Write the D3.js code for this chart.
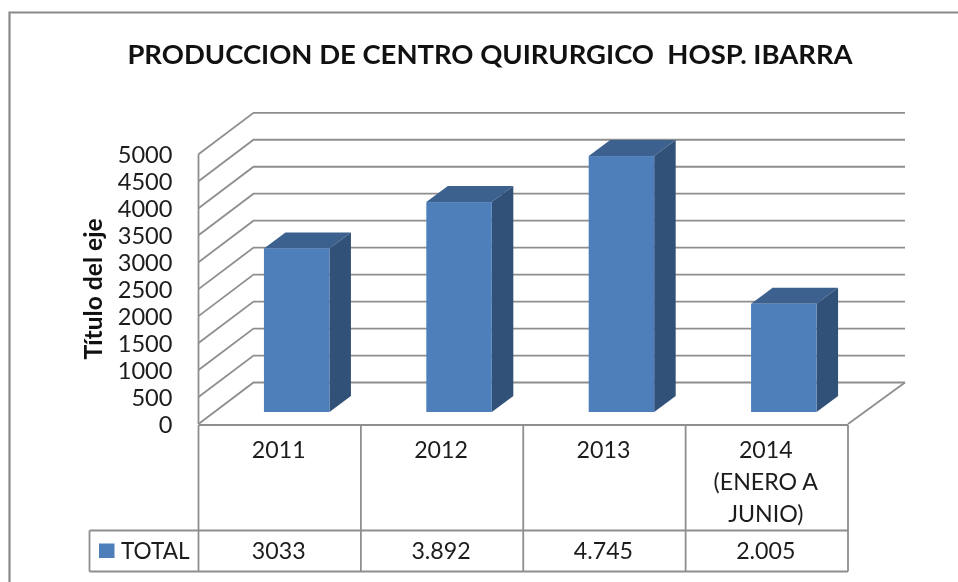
<!DOCTYPE html>
<html>
<head>
<meta charset="utf-8">
<script src="https://cdn.jsdelivr.net/npm/d3@7/dist/d3.min.js"></script>
<style>
html,body{margin:0;padding:0;background:#fff;overflow:hidden}
svg{display:block;filter:blur(0.35px)}
text{font-family:Lato,"Open Sans",sans-serif;fill:#1c1c1c}
</style>
</head>
<body>
<svg id="chart" width="958" height="582"></svg>
<script>
const categories = ["2011", "2012", "2013", "2014"];
const categoryLines = [["2011"], ["2012"], ["2013"], ["2014", "(ENERO A", "JUNIO)"]];
const values = [3033, 3892, 4745, 2005];
const tableLabels = ["3033", "3.892", "4.745", "2.005"];
const yTicks = [0, 500, 1000, 1500, 2000, 2500, 3000, 3500, 4000, 4500, 5000];
const seriesName = "TOTAL";
const chartTitle = "PRODUCCION DE CENTRO QUIRURGICO  HOSP. IBARRA";
const axisTitle = "Título del eje";

const gridColor = "#8e8e8e";
const svg = d3.select("#chart");

const x = d3.scaleBand().domain(categories).range([198.5, 848]).paddingInner(0).paddingOuter(0);
const y = d3.scaleLinear().domain([0, 5000]).range([424, 154.3]);

const wall = {dx: 55, dy: -41.5};
const barDepth = {dx: 21.5, dy: -16};
const barOffset = {dx: 17, dy: -12};
const barWidth = 65.5;

// frame
svg.append("path")
  .attr("d", d3.line()([[9.5, 582], [9.5, 12.5], [958, 12.5]]))
  .attr("fill", "none").attr("stroke", "#8a8a8a").attr("stroke-width", 2.2);

// title
svg.append("text").attr("x", 490).attr("y", 64).attr("text-anchor", "middle")
  .attr("font-size", 27.45).attr("font-weight", 700).style("white-space", "pre")
  .attr("xml:space", "preserve").style("fill", "#111").text(chartTitle);

// walls / gridlines
const grid = svg.append("g").attr("fill", "none").attr("stroke", gridColor).attr("stroke-width", 1.8);
grid.selectAll("path").data(yTicks).join("path")
  .attr("d", d => d3.line()([
    [x.range()[0], y(d)],
    [x.range()[0] + wall.dx, y(d) + wall.dy],
    [x.range()[1] + wall.dx + 2, y(d) + wall.dy]
  ]));
grid.append("path").attr("class", "left-wall")
  .attr("d", d3.line()([[x.range()[0], y(5000)], [x.range()[0], y(0)]]));
grid.append("path").attr("class", "floor-edge")
  .attr("d", d3.line()([[x.range()[1], y(0)], [x.range()[1] + wall.dx + 2, y(0) + wall.dy]]));

// bars
const bars = svg.append("g").selectAll("g").data(values).join("g");
const bx = (d, i) => x(categories[i]) + x.bandwidth() / 2 + barOffset.dx - barWidth / 2;
const fy = d => y(d) + barOffset.dy;
const base = y(0) + barOffset.dy;
bars.append("path").attr("fill", "#3c618f")
  .attr("d", (d, i) => d3.line()([
    [bx(d, i), fy(d)], [bx(d, i) + barDepth.dx, fy(d) + barDepth.dy],
    [bx(d, i) + barWidth + barDepth.dx, fy(d) + barDepth.dy], [bx(d, i) + barWidth, fy(d)]
  ]) + "Z");
bars.append("path").attr("fill", "#325179")
  .attr("d", (d, i) => d3.line()([
    [bx(d, i) + barWidth, fy(d)], [bx(d, i) + barWidth + barDepth.dx, fy(d) + barDepth.dy],
    [bx(d, i) + barWidth + barDepth.dx, base + barDepth.dy], [bx(d, i) + barWidth, base]
  ]) + "Z");
bars.append("rect").attr("fill", "#4e7fbb")
  .attr("x", bx).attr("y", fy).attr("width", barWidth).attr("height", d => base - fy(d));

// value axis labels
const yAxis = d3.axisLeft(y).tickValues(yTicks).tickSize(0).tickPadding(0).tickFormat(d3.format("d"));
const axisG = svg.append("g").attr("transform", "translate(172.5,0)").call(yAxis);
axisG.select(".domain").remove();
axisG.selectAll("text").attr("font-size", 23.6)
  .style("font-family", "Lato").attr("dy", "0.35em");

// axis title
svg.append("text").attr("transform", "translate(102,289) rotate(-90)").attr("text-anchor", "middle")
  .attr("font-size", 24.6).attr("font-weight", 700).style("fill", "#111").text(axisTitle);

// data table
const tTop = 425, tMid = 530.5, tBot = 571.5, legendLeft = 89.5;
const tbl = svg.append("g").attr("fill", "none").attr("stroke", gridColor).attr("stroke-width", 1.8);
tbl.append("path").attr("d", d3.line()([[x.range()[0], tTop], [x.range()[1], tTop]]));
tbl.append("path").attr("d", d3.line()([[legendLeft, tMid], [x.range()[1], tMid]]));
tbl.append("path").attr("d", d3.line()([[legendLeft, tBot], [x.range()[1], tBot]]));
tbl.append("path").attr("d", d3.line()([[legendLeft, tMid], [legendLeft, tBot]]));
tbl.selectAll("path.col").data([...categories.map(c => x(c)), x.range()[1]]).join("path")
  .attr("class", "col").attr("d", d => d3.line()([[d, tTop], [d, tBot]]));

const cx = c => x(c) + x.bandwidth() / 2;
const catText = svg.append("g").selectAll("text").data(categories).join("text")
  .attr("text-anchor", "middle").attr("font-size", 23.2).attr("y", 457.5);
catText.each(function(c, i) {
  d3.select(this).selectAll("tspan").data(categoryLines[i]).join("tspan")
    .attr("x", cx(c) - 1).attr("y", (l, k) => 457.5 + k * 32).text(l => l);
});
svg.append("g").selectAll("text").data(tableLabels).join("text")
  .attr("text-anchor", "middle").attr("font-size", 23.2).attr("y", 558.5)
  .attr("x", (d, i) => cx(categories[i]) - 1).text(d => d);

// legend
svg.append("rect").attr("x", 99).attr("y", 543.5).attr("width", 15.5).attr("height", 14.5).attr("fill", "#4e7fbb");
svg.append("text").attr("x", 121).attr("y", 558.5).attr("font-size", 22.6).text(seriesName);
</script>
</body>
</html>
